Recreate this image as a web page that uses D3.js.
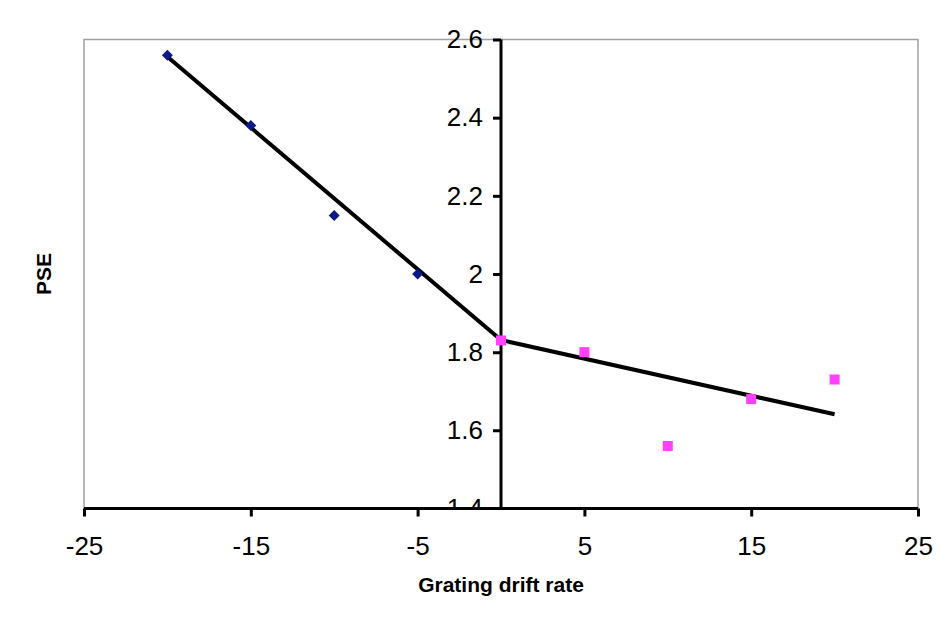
<!DOCTYPE html>
<html>
<head>
<meta charset="utf-8">
<script src="https://cdn.jsdelivr.net/npm/d3@7"></script>
<style>
  html, body { margin: 0; padding: 0; background: #fff; }
  svg { display: block; font-family: "Liberation Sans", Arial, sans-serif; }
</style>
</head>
<body>
<svg id="chart" width="941" height="621"></svg>
<script>
// Data
const negRates = [-20, -15, -10, -5];
const negPSE = [2.56, 2.38, 2.15, 2.0];
const posRates = [0, 5, 10, 15, 20];
const posPSE = [1.83, 1.80, 1.56, 1.68, 1.73];
const fitLeftX = [-20, 0];
const fitLeftY = [2.556, 1.831];
const fitRightX = [0, 20];
const fitRightY = [1.831, 1.641];
const xTicks = [-25, -15, -5, 5, 15, 25];
const yTicks = [1.4, 1.6, 1.8, 2.0, 2.2, 2.4, 2.6];

(function () {
const svg = d3.select("#chart");
const pL = 84, pR = 918, pT = 39.5, pB = 508.5;

const x = d3.scaleLinear().domain([-25, 25]).range([pL, pR]);
const y = d3.scaleLinear().domain([1.4, 2.6]).range([pB, pT]);

// plot area border (gray)
svg.append("rect")
  .attr("x", pL).attr("y", pT)
  .attr("width", pR - pL).attr("height", pB - pT)
  .attr("fill", "none").attr("stroke", "#a0a0a0").attr("stroke-width", 1.5);

// clip for y-axis labels (bottom label gets hidden below x axis)
svg.append("clipPath").attr("id", "yclip")
  .append("rect").attr("x", -1000).attr("y", 0).attr("width", 2000).attr("height", pB);

// Y axis at x = 0
const yAxis = svg.append("g")
  .attr("transform", `translate(${x(0)},0)`)
  .call(d3.axisLeft(y).tickValues(yTicks).tickSize(8).tickPadding(10)
    .tickFormat(d => String(+d.toFixed(1))));
yAxis.select(".domain").remove();
yAxis.selectAll(".tick line").attr("stroke", "#000").attr("stroke-width", 3);
yAxis.selectAll(".tick text").attr("font-size", 26).attr("fill", "#000")
  .attr("font-family", "Liberation Sans, Arial, sans-serif");
yAxis.attr("clip-path", "url(#yclip)");
// vertical axis line
svg.append("line")
  .attr("x1", x(0)).attr("x2", x(0))
  .attr("y1", pT).attr("y2", pB)
  .attr("stroke", "#000").attr("stroke-width", 3);

// X axis
const xAxis = svg.append("g")
  .attr("transform", `translate(0,${pB})`)
  .call(d3.axisBottom(x).tickValues(xTicks).tickSize(8).tickPadding(20)
    .tickFormat(d => String(d)));
xAxis.select(".domain").remove();
xAxis.selectAll(".tick line").attr("stroke", "#000").attr("stroke-width", 3);
xAxis.selectAll(".tick text").attr("font-size", 26).attr("fill", "#000")
  .attr("font-family", "Liberation Sans, Arial, sans-serif");
svg.append("line")
  .attr("x1", pL).attr("x2", pR)
  .attr("y1", pB).attr("y2", pB)
  .attr("stroke", "#000").attr("stroke-width", 3);

// Fit lines
const line = d3.line().x(d => x(d[0])).y(d => y(d[1]));
svg.append("path")
  .attr("d", line(fitLeftX.map((v, i) => [v, fitLeftY[i]])))
  .attr("fill", "none").attr("stroke", "#000").attr("stroke-width", 4);
svg.append("path")
  .attr("d", line(fitRightX.map((v, i) => [v, fitRightY[i]])))
  .attr("fill", "none").attr("stroke", "#000").attr("stroke-width", 4);

// Negative series: navy diamonds
svg.append("g").selectAll("path")
  .data(negRates.map((v, i) => [v, negPSE[i]]))
  .join("path")
  .attr("transform", d => `translate(${x(d[0])},${y(d[1])})`)
  .attr("d", "M0,-5.5L5.5,0L0,5.5L-5.5,0Z")
  .attr("fill", "#0a1a8a");

// Positive series: magenta squares
svg.append("g").selectAll("rect")
  .data(posRates.map((v, i) => [v, posPSE[i]]))
  .join("rect")
  .attr("x", d => x(d[0]) - 5)
  .attr("y", d => y(d[1]) - 5)
  .attr("width", 10).attr("height", 10)
  .attr("fill", "#ff40ff");

// Axis titles
svg.append("text")
  .attr("x", (pL + pR) / 2).attr("y", 592)
  .attr("text-anchor", "middle")
  .attr("font-size", 21).attr("font-weight", "bold")
  .text("Grating drift rate");

svg.append("text")
  .attr("transform", `translate(51,${(pT + pB) / 2}) rotate(-90)`)
  .attr("text-anchor", "middle")
  .attr("font-size", 21).attr("font-weight", "bold")
  .text("PSE");
})();
</script>
</body>
</html>
